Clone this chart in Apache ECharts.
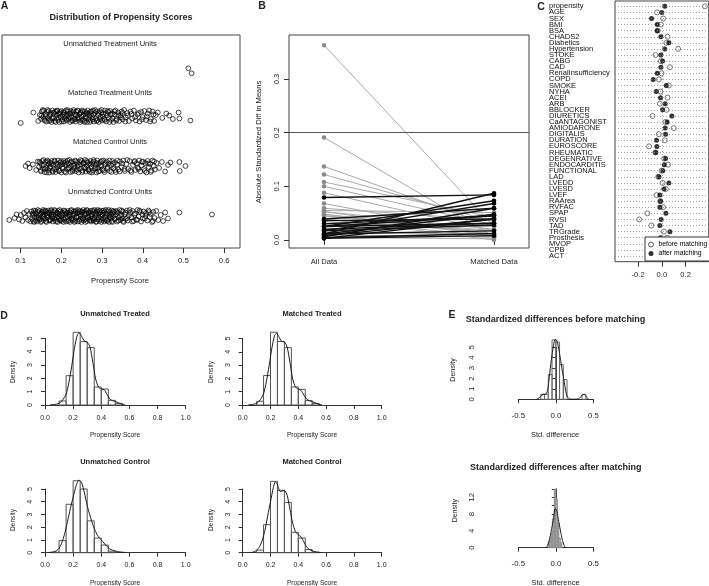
<!DOCTYPE html>
<html><head><meta charset="utf-8">
<script src="https://cdn.jsdelivr.net/npm/echarts@6/dist/echarts.min.js"></script>
<style>html,body{margin:0;padding:0;background:#fff}#c{width:709px;height:586px}</style>
</head><body><div id="c"></div><script>
// ---------- Panel A : jitter plot of propensity scores ----------
const aXTicks = [0.1, 0.2, 0.3, 0.4, 0.5, 0.6];
const aRowLabels = ['Unmatched Treatment Units', 'Matched Treatment Units', 'Matched Control Units', 'Unmatched Control Units'];
const aRowY = [4, 3, 2, 1];
// [propensity score, vertical jitter]
const aUT = [[0.512, -0.046], [0.520, -0.146]];
const aMT = [[.100,-.14],[.131,.07],[.143,-.10],[.147,.02],[.150,-.06],[.152,.09],[.155,-.02],[.157,.11],[.159,-.09],[.161,.04],[.163,-.11],[.165,.08],[.167,-.04],[.169,.10],[.171,.00],[.172,-.08],[.174,.06],[.176,-.12],[.178,.11],[.180,-.03],[.181,.05],[.183,-.10],[.185,.09],[.187,-.05],[.188,.02],[.190,.11],[.192,-.08],[.194,.04],[.195,-.12],[.197,.08],[.199,-.01],[.200,.10],[.202,-.07],[.204,.03],[.206,-.11],[.207,.07],[.209,-.04],[.211,.11],[.213,-.09],[.214,.01],[.216,.09],[.218,-.06],[.220,.05],[.221,-.12],[.223,.10],[.225,-.02],[.227,.06],[.228,-.09],[.230,.12],[.232,-.05],[.234,.03],[.235,-.11],[.237,.08],[.239,-.03],[.241,.10],[.242,-.08],[.244,.04],[.246,-.12],[.248,.07],[.249,-.01],[.251,.11],[.253,-.07],[.255,.02],[.256,-.10],[.258,.09],[.260,-.04],[.262,.06],[.263,-.12],[.265,.11],[.267,-.06],[.269,.01],[.271,.08],[.272,-.09],[.274,.04],[.276,-.03],[.278,.11],[.280,-.11],[.282,.06],[.284,-.05],[.286,.09],[.288,-.08],[.290,.02],[.292,-.12],[.294,.10],[.296,-.02],[.298,.07],[.300,-.09],[.303,.04],[.305,-.06],[.307,.11],[.310,-.11],[.312,.01],[.315,.08],[.317,-.04],[.320,.10],[.322,-.08],[.325,.05],[.328,-.12],[.331,.03],[.333,.11],[.336,-.06],[.339,.07],[.342,-.10],[.345,.02],[.348,.09],[.351,-.07],[.354,.12],[.358,-.03],[.362,.06],[.366,-.10],[.370,.09],[.374,-.05],[.378,.11],[.383,-.09],[.387,.03],[.392,-.11],[.396,.08],[.400,-.02],[.404,.10],[.408,-.08],[.412,.05],[.416,.11],[.420,-.06],[.424,.09],[.428,-.10],[.432,.02],[.437,.07],[.448,-.04],[.458,.05],[.465,.01],[.474,-.06],[.488,.07],[.490,-.05],[.517,-.09],
[.151,.01],[.154,.12],[.158,-.06],[.162,.00],[.166,.12],[.170,-.10],[.173,.03],[.177,-.05],[.182,.07],[.186,-.12],[.189,.10],[.193,-.03],[.196,.05],[.201,-.11],[.205,.08],[.208,.00],[.212,-.06],[.215,.12],[.219,-.02],[.222,.04],[.226,-.10],[.229,.09],[.233,-.07],[.236,.01],[.240,.11],[.243,-.04],[.247,.06],[.250,-.09],[.253,.09],[.257,-.12],[.259,.04],[.261,-.01],[.266,.05],[.270,-.12],[.273,.09],[.277,-.07],[.279,.03],[.283,.12],[.287,-.10],[.291,.06],[.295,-.06],[.299,.12],[.302,-.01],[.306,-.08],[.309,.05],[.314,.10],[.318,-.12],[.321,.03],[.326,-.05],[.330,.09],[.335,-.09],[.340,.01],[.346,-.03],[.350,.06],[.357,-.11],[.363,.01],[.372,.04],[.381,-.02],[.390,.06],[.398,-.07],[.410,-.01],[.418,-.11],[.426,.03]];
const aMC = [[.112,.00],[.118,.05],[.122,-.04],[.130,.03],[.138,-.08],[.142,.09],[.145,-.02],[.148,.06],[.150,-.11],[.153,.10],[.155,-.05],[.157,.02],[.159,-.12],[.161,.08],[.163,-.03],[.165,.11],[.167,-.08],[.169,.04],[.170,-.13],[.172,.07],[.174,-.01],[.176,.10],[.178,-.10],[.180,.03],[.182,-.06],[.184,.09],[.186,-.12],[.188,.05],[.190,-.02],[.192,.11],[.194,-.09],[.196,.01],[.198,.07],[.200,-.13],[.202,.04],[.204,-.05],[.206,.10],[.208,-.11],[.210,.02],[.212,.08],[.214,-.07],[.216,.05],[.218,-.03],[.220,.12],[.222,-.12],[.224,.00],[.226,.09],[.228,-.08],[.230,.04],[.232,-.04],[.234,.11],[.236,-.10],[.238,.06],[.240,-.01],[.242,-.13],[.244,.08],[.246,-.06],[.248,.03],[.250,.10],[.252,-.09],[.254,.05],[.256,-.03],[.258,.12],[.260,-.11],[.262,.01],[.264,.07],[.266,-.07],[.268,.04],[.270,-.12],[.272,.10],[.274,-.02],[.276,.06],[.278,-.09],[.280,.09],[.282,-.05],[.284,.02],[.286,-.13],[.288,.11],[.290,-.04],[.292,.05],[.294,-.10],[.296,.08],[.298,.00],[.301,-.07],[.303,.11],[.306,-.12],[.308,.03],[.311,.09],[.313,-.06],[.316,.05],[.319,-.10],[.322,.01],[.325,.10],[.328,-.04],[.331,.07],[.334,-.12],[.337,.03],[.340,-.07],[.344,.09],[.348,-.02],[.352,.11],[.356,-.10],[.360,.04],[.364,-.06],[.368,.10],[.372,-.12],[.376,.02],[.379,.08],[.382,-.08],[.385,.05],[.388,-.03],[.391,.11],[.394,-.11],[.397,.01],[.400,.09],[.403,-.06],[.406,.06],[.409,-.13],[.412,.10],[.415,-.02],[.418,.04],[.421,-.09],[.424,.11],[.427,.00],[.430,-.07],[.434,.06],[.440,-.04],[.447,.08],[.455,-.11],[.462,.02],[.468,.07],[.490,.08],[.491,-.10],[.505,.00],
[.146,.08],[.149,-.08],[.152,.02],[.156,.12],[.160,-.06],[.164,-.13],[.168,.09],[.171,-.03],[.175,.04],[.179,-.12],[.183,.11],[.187,-.07],[.191,.03],[.195,-.10],[.199,.10],[.203,-.02],[.207,.06],[.211,-.13],[.215,.11],[.219,-.05],[.223,.07],[.227,-.11],[.231,.00],[.235,.09],[.239,-.07],[.243,.02],[.247,.12],[.251,-.12],[.255,.07],[.259,-.05],[.263,.10],[.267,-.09],[.271,.03],[.275,-.13],[.279,.12],[.283,-.03],[.287,.06],[.291,-.11],[.295,.01],[.299,.10],[.304,-.09],[.309,.06],[.314,-.02],[.318,.11],[.323,-.12],[.327,.04],[.332,-.08],[.338,.11],[.343,-.11],[.349,.05],[.355,-.06],[.362,.12],[.370,-.09],[.380,.10],[.389,-.06],[.398,.08],[.405,-.10],[.413,.05],[.420,-.12],[.428,.09]];
const aUC = [[.072,-.08],[.085,-.04],[.090,.03],[.096,-.07],[.100,.02],[.104,-.10],[.108,.06],[.112,-.03],[.115,.10],[.118,-.08],[.121,.04],[.124,-.11],
[.126,.09],[.128,-.06],[.129,.02],[.131,-.10],[.132,.11],[.134,-.02],[.135,.06],[.137,-.09],[.138,.04],[.140,-.11],[.141,.08],[.143,-.04],[.144,.00],[.146,.10],[.147,-.07],[.149,.05],[.150,-.12],[.152,.07],[.153,-.01],[.155,.12],[.156,-.08],[.158,.03],[.159,-.05],[.161,.09],[.162,-.10],[.164,.01],[.165,.06],[.167,-.03],[.168,.11],[.170,-.09],
[.171,.05],[.173,-.07],[.174,.10],[.176,-.01],[.177,.03],[.179,-.11],[.180,.08],[.182,-.05],[.183,.12],[.185,-.08],[.186,.02],[.188,-.03],[.189,.07],[.191,-.12],[.192,.10],[.194,-.06],[.195,.04],[.197,-.09],[.198,.09],[.200,.00],[.201,-.10],[.203,.06],[.204,-.04],[.206,.11],[.207,-.07],[.209,.02],[.210,.08],[.212,-.11],[.213,.05],[.215,-.02],
[.216,.10],[.218,-.08],[.219,.03],[.221,-.12],[.222,.07],[.224,-.05],[.225,.12],[.227,-.09],[.228,.01],[.230,.09],[.231,-.06],[.233,.04],[.234,-.10],[.236,.11],[.237,-.03],[.239,.06],[.240,-.11],[.242,.08],[.243,-.01],[.245,.10],[.246,-.07],[.248,.03],[.249,-.12],[.251,.07],[.252,-.04],[.254,.12],[.255,-.09],[.257,.02],[.258,.09],[.260,-.06],
[.261,.05],[.263,-.10],[.264,.11],[.266,-.02],[.267,.06],[.269,-.08],[.270,.01],[.272,.10],[.273,-.11],[.275,.04],[.276,-.05],[.278,.08],[.279,-.09],[.281,.12],[.282,-.03],[.284,.07],[.285,-.12],[.287,.02],[.288,.09],[.290,-.07],[.291,.05],[.293,-.10],[.294,.11],[.296,-.01],[.297,.03],[.299,-.08],[.300,.10],[.302,-.05],[.303,.06],[.305,-.11],
[.306,.08],[.308,-.02],[.309,.12],[.311,-.09],[.312,.04],[.314,-.06],[.315,.09],[.317,-.12],[.318,.01],[.320,.07],[.321,-.04],[.323,.11],[.324,-.10],[.326,.05],[.327,-.01],[.329,.08],[.331,-.07],[.333,.03],[.335,.10],[.337,-.11],[.339,.06],[.341,-.03],[.343,.12],[.345,-.08],[.347,.02],[.349,-.05],[.351,.09],[.353,-.12],[.356,.04],[.358,-.06],
[.361,.11],[.363,-.09],[.366,.01],[.369,.07],[.372,-.03],[.375,.10],[.378,-.10],[.381,.05],[.384,-.07],[.387,.12],[.390,-.01],[.393,.08],[.396,-.11],[.399,.03],[.402,.09],[.405,-.05],[.408,.06],[.411,-.09],[.414,.11],[.417,-.02],[.420,.04],[.423,-.12],[.426,.08],[.429,-.04],[.433,.10],[.438,-.08],[.444,.02],[.450,-.10],[.455,.07],[.462,-.05],
[.490,.07],[.570,.03],
[.130,.05],[.133,-.12],[.136,.10],[.139,-.04],[.142,.12],[.145,-.07],[.148,.03],[.151,-.10],[.154,.09],[.157,-.02],[.160,.11],[.163,-.12],[.166,.02],[.169,.07],[.172,-.09],[.175,.12],[.178,-.04],[.181,.00],[.184,.10],[.187,-.11],[.190,.05],[.193,-.01],[.196,.12],[.199,-.07],[.202,.03],[.205,-.12],[.208,.10],[.211,-.04],[.214,.06],[.217,-.10],[.220,.01],[.223,.11],[.226,-.06],[.229,.05],[.232,-.12],[.235,.08],[.238,-.02],[.241,.12],[.244,-.10],[.247,.00],[.250,.09],[.253,-.06],[.256,.05],[.259,-.12],[.262,.12],[.265,-.04],[.268,.08],[.271,-.09],[.274,.00],[.277,.11],[.280,-.07],[.283,.04],[.286,-.11],[.289,.12],[.292,-.03],[.295,.07],[.298,-.12],[.301,.02],[.304,.11],[.307,-.07],[.310,.05],[.313,-.10],[.316,.12],[.319,-.02],[.322,.03],[.325,-.12],[.328,.10],[.332,-.05],[.336,.08],[.340,-.09],[.344,.00],[.348,.11],[.352,-.10],[.357,.07],[.362,-.04],[.368,.12],[.374,-.11],[.380,.02],[.386,-.08],[.392,.11],[.400,-.05],[.407,.00],[.415,.08],[.425,-.10]];

// ---------- Panel C : standardized differences (before / after) ----------
const cNames = ['propensity','AGE','SEX','BMI','BSA','CHADS2','Diabetics','Hypertension','STOKE','CABG','CAD','RenalInsufficiency','COPD','SMOKE','NYHA','ACEI','ARB','BBLOCKER','DIURETICS','CaANTAGONIST','AMIODARONE','DIGITALIS','DURATION','EUROSCORE','RHEUMATIC','DEGENRATIVE','ENDOCARDITIS','FUNCTIONAL','LAD','LVEDD','LVESD','LVEF','RAArea','RVFAC','SPAP','RVSI','TAD','TRGrade','Prosthesis','MVOP','CPB','ACT'];
const cBefore = [0.363,-0.040,0.011,-0.008,-0.036,0.048,0.039,0.137,-0.053,-0.008,0.068,-0.003,-0.025,0.059,-0.011,0.048,-0.017,0.039,-0.079,0.030,0.100,-0.025,0.025,-0.108,-0.055,0.020,0.053,-0.003,-0.030,0.006,0.034,-0.045,-0.014,0.011,-0.122,-0.191,-0.088,0.017,0.045,0.010,-0.005,0.004];
const cAfter  = [0.025,0.000,-0.087,-0.039,-0.039,-0.008,0.059,0.025,-0.008,0.006,-0.008,-0.039,-0.073,0.037,-0.048,-0.011,0.028,0.006,0.084,0.045,0.028,0.031,-0.045,-0.042,-0.051,0.031,0.020,0.008,-0.025,0.059,0.017,-0.017,-0.011,-0.017,0.034,-0.006,-0.017,0.068,-0.011,0.005,-0.002,0.012];
const cXTicks = [-0.2, 0.0, 0.2];
const cLegend = ['before matching', 'after matching'];

// ---------- Panel B ----------
const bCats = ['All Data', 'Matched Data'];
const bYTicks = [0.0, 0.1, 0.2, 0.3];
const bThreshold = 0.2;

// ---------- Panel D : histograms of propensity scores ----------
const dTitles = ['Unmatched Treated', 'Matched Treated', 'Unmatched Control', 'Matched Control'];
const d1Edges = [0.10,0.15,0.20,0.25,0.30,0.35,0.40,0.45,0.50,0.55];
const d1H = [0.30,2.20,5.45,4.75,4.30,1.35,1.20,0.35,0.12];
const d2Edges = [0.10,0.15,0.20,0.25,0.30,0.35,0.40,0.45,0.50,0.55];
const d2H = [0.28,2.22,5.48,4.78,4.32,1.36,1.18,0.33,0.12];
const d3Edges = [0.05,0.10,0.15,0.20,0.25,0.30,0.35,0.40,0.45,0.50];
const d3H = [0.04,0.95,3.80,5.65,5.00,2.50,1.15,0.60,0.12];
const d4Edges = [0.10,0.15,0.20,0.25,0.30,0.35,0.40,0.45,0.50,0.55];
const d4H = [0.20,2.20,5.60,4.90,3.95,1.60,1.15,0.25,0.05];
const d1Dens = [[0.035,0.01],[0.07,0.04],[0.10,0.12],[0.12,0.3],[0.15,0.8],[0.17,1.7],[0.19,2.9],[0.21,4.3],[0.23,5.25],[0.245,5.4],[0.26,5.15],[0.28,4.8],[0.30,4.7],[0.32,4.35],[0.34,3.2],[0.36,1.95],[0.38,1.35],[0.40,1.2],[0.42,1.15],[0.44,0.8],[0.46,0.45],[0.48,0.32],[0.50,0.27],[0.52,0.18],[0.54,0.08],[0.57,0.01]];
const d2Dens = [[0.04,0.01],[0.07,0.04],[0.10,0.12],[0.12,0.3],[0.15,0.85],[0.17,1.75],[0.19,2.95],[0.21,4.3],[0.23,5.25],[0.245,5.4],[0.26,5.15],[0.28,4.8],[0.30,4.75],[0.32,4.35],[0.34,3.2],[0.36,1.95],[0.38,1.35],[0.40,1.2],[0.42,1.1],[0.44,0.75],[0.46,0.45],[0.48,0.32],[0.50,0.25],[0.52,0.17],[0.54,0.08],[0.57,0.01]];
const d3Dens = [[0.03,0.02],[0.06,0.06],[0.08,0.15],[0.10,0.34],[0.12,0.8],[0.14,1.5],[0.16,2.45],[0.18,3.45],[0.20,4.35],[0.22,5.2],[0.24,5.7],[0.26,5.5],[0.28,4.7],[0.30,3.7],[0.32,2.9],[0.34,2.2],[0.36,1.65],[0.38,1.25],[0.40,1.0],[0.42,0.75],[0.44,0.5],[0.46,0.3],[0.48,0.2],[0.50,0.13],[0.53,0.06],[0.57,0.02]];
const d4Dens = [[0.05,0.01],[0.08,0.06],[0.10,0.2],[0.12,0.45],[0.14,0.95],[0.16,1.75],[0.18,2.9],[0.20,4.0],[0.22,5.1],[0.235,5.55],[0.25,5.35],[0.27,4.8],[0.29,4.85],[0.30,4.9],[0.32,4.5],[0.34,3.4],[0.36,2.3],[0.38,1.65],[0.40,1.4],[0.42,1.25],[0.44,0.85],[0.46,0.45],[0.48,0.25],[0.50,0.15],[0.53,0.05],[0.56,0.01]];

// ---------- Panel E : histograms of standardized differences ----------
const eTitles = ['Standardized differences before matching', 'Standardized differences after matching'];
const e1Edges = [-0.20,-0.15,-0.10,-0.05,0.00,0.05,0.10,0.15,0.20,0.25,0.30,0.35,0.40];
const e1H = [0.48,0.48,2.38,5.71,5.50,3.33,1.90,0,0,0,0,0.48];
const e2Edges = [-0.10,-0.08,-0.06,-0.04,-0.02,0.00,0.02,0.04,0.06,0.08,0.10];
const e2H = [1.16,2.33,3.49,6.98,13.95,11.63,5.81,2.33,1.16,0.0];
const e1Dens = [[-0.26,0.0],[-0.23,0.1],[-0.2,0.3],[-0.17,0.48],[-0.14,0.5],[-0.12,0.6],[-0.1,1.3],[-0.085,2.2],[-0.07,3.2],[-0.05,4.3],[-0.03,5.2],[-0.01,5.75],[0.01,5.7],[0.03,5.2],[0.05,4.4],[0.07,3.5],[0.09,2.6],[0.11,1.8],[0.13,0.9],[0.15,0.3],[0.18,0.05],[0.24,0.01],[0.3,0.03],[0.33,0.2],[0.36,0.45],[0.385,0.45],[0.41,0.2],[0.44,0.02]];
const e2Dens = [[-0.13,0],[-0.11,0.5],[-0.09,1.6],[-0.07,3.2],[-0.05,5.0],[-0.03,7.0],[-0.01,9.3],[0.01,9.0],[0.03,7.2],[0.05,5.2],[0.07,3.3],[0.09,1.7],[0.11,0.6],[0.125,0.1]];

// =================== build ===================
const FONT = '"Liberation Sans", Arial, Helvetica, sans-serif';
const INK = '#222';
const chart = echarts.init(document.getElementById('c'), null, {renderer: 'canvas'});

function grid(l, t, w, h, show) {
  return {left: l, top: t, width: w, height: h, show: !!show, borderColor: '#444', borderWidth: 1,
          backgroundColor: 'transparent', containLabel: false, outerBoundsMode: 'none'};
}
// panel C row geometry: first row at 6.3px, last at 256px
const C_TOP = 1, C_H = 260.7, C_ROW0 = 6.3, C_ROWN = 256;
const cStep = (C_ROWN - C_ROW0) / (cNames.length - 1);
const grids = [
  grid(2, 35, 238, 213, true),        // 0 A
  grid(289, 35, 240, 213, true),      // 1 B
  grid(615, C_TOP, 93.7, C_H, true),  // 2 C
  grid(45, 338.3, 140.7, 66.7),       // 3 D1
  grid(242.7, 338.6, 139, 66.4),      // 4 D2
  grid(45, 489, 140.7, 63.7),         // 5 D3
  grid(242.7, 489, 139, 63.7),        // 6 D4
  grid(518.3, 347.3, 75, 52),         // 7 E1
  grid(518.3, 488.9, 75, 58.8),       // 8 E2
  grid(615, C_ROW0 - cStep / 2, 93.7, cStep * cNames.length) // 9 C labels
];
const fmt1 = v => (Math.round(v * 10) / 10).toFixed(1);
const tickStyle = (len) => ({show: true, length: len, lineStyle: {color: '#333', width: 1}});
const lbl = (o) => Object.assign({color: INK, fontFamily: FONT, showMinLabel: true, showMaxLabel: true}, o);

const xAxes = [
  {gridIndex: 0, type: 'value', min: 0.054, max: 0.639, axisLine: {show: false}, splitLine: {show: false},
   axisTick: Object.assign(tickStyle(5), {customValues: aXTicks}),
   axisLabel: lbl({customValues: aXTicks, formatter: fmt1, fontSize: 7.8, margin: 9})},
  {gridIndex: 1, type: 'value', min: 0.794, max: 2.206, axisLine: {show: false}, splitLine: {show: false},
   axisTick: Object.assign(tickStyle(5), {customValues: [1, 2]}),
   axisLabel: lbl({customValues: [1, 2], formatter: v => bCats[Math.round(v) - 1], fontSize: 7.6, margin: 10})},
  {gridIndex: 2, type: 'value', min: -0.395, max: 0.395, axisLine: {show: false}, splitLine: {show: false},
   axisTick: Object.assign(tickStyle(5), {customValues: cXTicks}),
   axisLabel: lbl({customValues: cXTicks, formatter: fmt1, fontSize: 7.6, margin: 9})}
];
const yAxes = [
  {gridIndex: 0, type: 'value', min: 0.36, max: 4.62, show: false},
  {gridIndex: 1, type: 'value', min: -0.015, max: 0.382, axisLine: {show: false}, splitLine: {show: false},
   axisTick: Object.assign(tickStyle(5), {customValues: bYTicks}),
   axisLabel: lbl({customValues: bYTicks, formatter: fmt1, fontSize: 7.6, rotate: 90, margin: 8})},
  {gridIndex: 2, type: 'value', inverse: true, show: false,
   min: 1 - (C_ROW0 - C_TOP) / cStep, max: cNames.length + (C_TOP + C_H - C_ROWN) / cStep}
];
// D and E axes (R style detached axes)
function histAxes(gi, xmin, xmax, xint, ymax, yint, xoff, yoff, yfmt, fs) {
  xAxes.push({gridIndex: gi, type: 'value', min: xmin, max: xmax, interval: xint, offset: xoff,
    axisLine: {show: true, lineStyle: {color: '#333', width: 1}}, splitLine: {show: false},
    axisTick: tickStyle(4), axisLabel: lbl({formatter: fmt1, fontSize: fs, margin: 6})});
  yAxes.push({gridIndex: gi, type: 'value', min: 0, max: ymax, interval: yint, offset: yoff,
    axisLine: {show: true, lineStyle: {color: '#333', width: 1}}, splitLine: {show: false},
    axisTick: tickStyle(4), axisLabel: lbl({formatter: yfmt, fontSize: fs, rotate: 90, margin: 6})});
}
const intFmt = v => String(Math.round(v));
histAxes(3, 0, 1, 0.2, 5, 1, 3.3, 5.5, intFmt, 7);
histAxes(4, 0, 1, 0.2, 5, 1, 3.3, 5.5, intFmt, 7);
histAxes(5, 0, 1, 0.2, 5, 1, 3.3, 5.5, intFmt, 7);
histAxes(6, 0, 1, 0.2, 5, 1, 3.3, 5.5, intFmt, 7);
histAxes(7, -0.5, 0.5, 0.5, 5, 1, 4, 33.3, intFmt, 7.8);
histAxes(8, -0.5, 0.5, 0.5, 14, 2, 3.3, 33.3, v => (Math.round(v) % 4 === 0 ? String(Math.round(v)) : ''), 7.8);
xAxes[7].axisLabel.margin = 8.5; xAxes[8].axisLabel.margin = 8.5;
yAxes[7].axisLabel.margin = 9; yAxes[8].axisLabel.margin = 9;
// C row-name axis (category, every label shown)
xAxes.push({gridIndex: 9, type: 'value', show: false, min: 0, max: 1});
yAxes.push({gridIndex: 9, type: 'category', data: cNames, inverse: true, boundaryGap: true,
  axisLine: {show: false}, axisTick: {show: false}, splitLine: {show: false},
  axisLabel: {interval: 0, hideOverlap: false, align: 'left', margin: 66, fontSize: 7.5,
              color: '#111', fontFamily: FONT}});

function hist(gi, edges, heights, fill, stroke) {
  return {type: 'custom', xAxisIndex: gi, yAxisIndex: gi, clip: false, silent: true, z: 2,
    data: heights.map((h, i) => [edges[i], edges[i + 1], h]),
    encode: {x: [0, 1], y: 2},
    renderItem: (params, api) => {
      const h = api.value(2);
      if (!(h > 0)) return null;
      const p0 = api.coord([api.value(0), 0]);
      const p1 = api.coord([api.value(1), h]);
      return {type: 'rect', shape: {x: p0[0], y: p1[1], width: p1[0] - p0[0], height: p0[1] - p1[1]},
              style: {fill: fill, stroke: stroke, lineWidth: 1}};
    }};
}
function dens(gi, data) {
  return {type: 'line', xAxisIndex: gi, yAxisIndex: gi, data: data, symbol: 'none', showSymbol: false,
          smooth: 0.25, clip: false, silent: true, z: 3, lineStyle: {color: '#1a1a1a', width: 1}};
}

// panel A data
const aData = [];
[aUT, aMT, aMC, aUC].forEach((rows, r) => rows.forEach(p => aData.push([p[0], aRowY[r] + p[1]])));

// panel B data, derived from panel C values
const bRows = cBefore.map((v, i) => [Math.abs(v), Math.abs(cAfter[i])]);
bRows.sort((p, q) => ((p[1] > p[0]) - (q[1] > q[0])));

const series = [
  {type: 'scatter', xAxisIndex: 0, yAxisIndex: 0, data: aData, symbol: 'circle', symbolSize: 4.8, silent: true,
   itemStyle: {color: 'rgba(0,0,0,0)', borderColor: '#000', borderWidth: 0.9}},
  {type: 'line', xAxisIndex: 1, yAxisIndex: 1, data: [], silent: true,
   markLine: {silent: true, symbol: ['none', 'none'], label: {show: false}, animation: false,
              lineStyle: {color: '#555', width: 1, type: 'solid'}, data: [{yAxis: bThreshold}]}},
  {type: 'custom', xAxisIndex: 1, yAxisIndex: 1, data: bRows, encode: {y: [0, 1]}, silent: true,
   renderItem: (params, api) => {
     const b = api.value(0), a = api.value(1);
     const up = a > b;
     const p = api.coord([1, b]), q = api.coord([2, a]);
     const col = up ? '#000' : '#8a8a8a';
     return {type: 'group', children: [
       {type: 'line', shape: {x1: p[0], y1: p[1], x2: q[0], y2: q[1]},
        style: {stroke: up ? '#111' : '#a8a8a8', lineWidth: up ? 1.4 : 1}},
       {type: 'circle', shape: {cx: p[0], cy: p[1], r: 2.3}, style: {fill: col}},
       {type: 'circle', shape: {cx: q[0], cy: q[1], r: 2.3}, style: {fill: col}}]};
   }},
  {type: 'line', xAxisIndex: 2, yAxisIndex: 2, data: [], silent: true,
   markLine: {silent: true, symbol: ['none', 'none'], label: {show: false}, animation: false,
              lineStyle: {color: '#8a8a8a', width: 0.8, type: [1, 2]},
              data: cNames.map((n, i) => ({yAxis: i + 1})).concat([{xAxis: 0}])}},
  {type: 'scatter', name: cLegend[0], xAxisIndex: 2, yAxisIndex: 2, symbol: 'circle', symbolSize: 5, silent: true,
   data: cBefore.map((v, i) => [v, i + 1]), itemStyle: {color: 'rgba(255,255,255,0)', borderColor: '#555', borderWidth: 1}},
  {type: 'scatter', name: cLegend[1], xAxisIndex: 2, yAxisIndex: 2, symbol: 'circle', symbolSize: 5, silent: true,
   data: cAfter.map((v, i) => [v, i + 1]), itemStyle: {color: '#000'}},
  hist(3, d1Edges, d1H, 'rgba(0,0,0,0)', '#555'), dens(3, d1Dens),
  hist(4, d2Edges, d2H, 'rgba(0,0,0,0)', '#555'), dens(4, d2Dens),
  hist(5, d3Edges, d3H, 'rgba(0,0,0,0)', '#555'), dens(5, d3Dens),
  hist(6, d4Edges, d4H, 'rgba(0,0,0,0)', '#555'), dens(6, d4Dens),
  hist(7, e1Edges, e1H, 'rgba(0,0,0,0)', '#666'), dens(7, e1Dens),
  hist(8, e2Edges, e2H, '#c4c4c4', '#888'), dens(8, e2Dens)
];

function txt(x, y, s, size, bold, rot) {
  return {type: 'text', x: x, y: y, rotation: rot ? Math.PI / 2 : 0, silent: true, z: 10,
          style: {text: s, fontSize: size, fontWeight: bold ? 'bold' : 'normal', fontFamily: FONT,
                  fill: INK, align: 'center', verticalAlign: 'middle'}};
}
const graphic = [
  txt(4.5, 6.3, 'A', 10.5, true), txt(262, 6, 'B', 10.5, true), txt(541, 7, 'C', 10.5, true),
  txt(4, 316, 'D', 10.5, true), txt(452, 315, 'E', 10.5, true),
  txt(121, 18, 'Distribution of Propensity Scores', 9, true),
  txt(110, 44, aRowLabels[0], 7.5), txt(110, 93, aRowLabels[1], 7.5),
  txt(110, 142, aRowLabels[2], 7.5), txt(110, 192, aRowLabels[3], 7.5),
  txt(120, 281, 'Propensity Score', 7.6),
  txt(259, 142, 'Absolute Standardized Diff in Means', 7.6, false, true),
  txt(115, 314, dTitles[0], 7.5, true), txt(312, 314, dTitles[1], 7.5, true),
  txt(115, 462.3, dTitles[2], 7.5, true), txt(312, 462.3, dTitles[3], 7.5, true),
  txt(115, 435, 'Propensity Score', 6.6), txt(312, 435, 'Propensity Score', 6.6),
  txt(115, 582.7, 'Propensity Score', 6.6), txt(312, 582.7, 'Propensity Score', 6.6),
  txt(13, 372, 'Density', 6.6, false, true), txt(210.7, 372, 'Density', 6.6, false, true),
  txt(13.3, 520, 'Density', 6.6, false, true), txt(210.7, 520, 'Density', 6.6, false, true),
  txt(555.6, 320, eTitles[0], 9, true), txt(555.8, 467.3, eTitles[1], 9, true),
  txt(555, 435, 'Std. difference', 7.5), txt(555.5, 582.7, 'Std. difference', 7.5),
  txt(453, 370, 'Density', 7, false, true), txt(455, 510.7, 'Density', 7, false, true)
];

chart.setOption({
  animation: false,
  textStyle: {fontFamily: FONT},
  grid: grids, xAxis: xAxes, yAxis: yAxes, series: series, graphic: graphic,
  legend: {show: true, orient: 'vertical', left: 645, top: 237, selectedMode: false, z: 20,
           backgroundColor: '#fff', borderColor: '#333', borderWidth: 1, padding: [4, 3, 4, 3],
           itemGap: 2, itemWidth: 5, itemHeight: 5,
           textStyle: {fontSize: 6.8, fontWeight: 'normal', color: '#000', fontFamily: FONT},
           data: [{name: cLegend[0], icon: 'circle', itemStyle: {color: '#fff', borderColor: '#333', borderWidth: 1}},
                  {name: cLegend[1], icon: 'circle', itemStyle: {color: '#000'}}]}
});
</script></body></html>
